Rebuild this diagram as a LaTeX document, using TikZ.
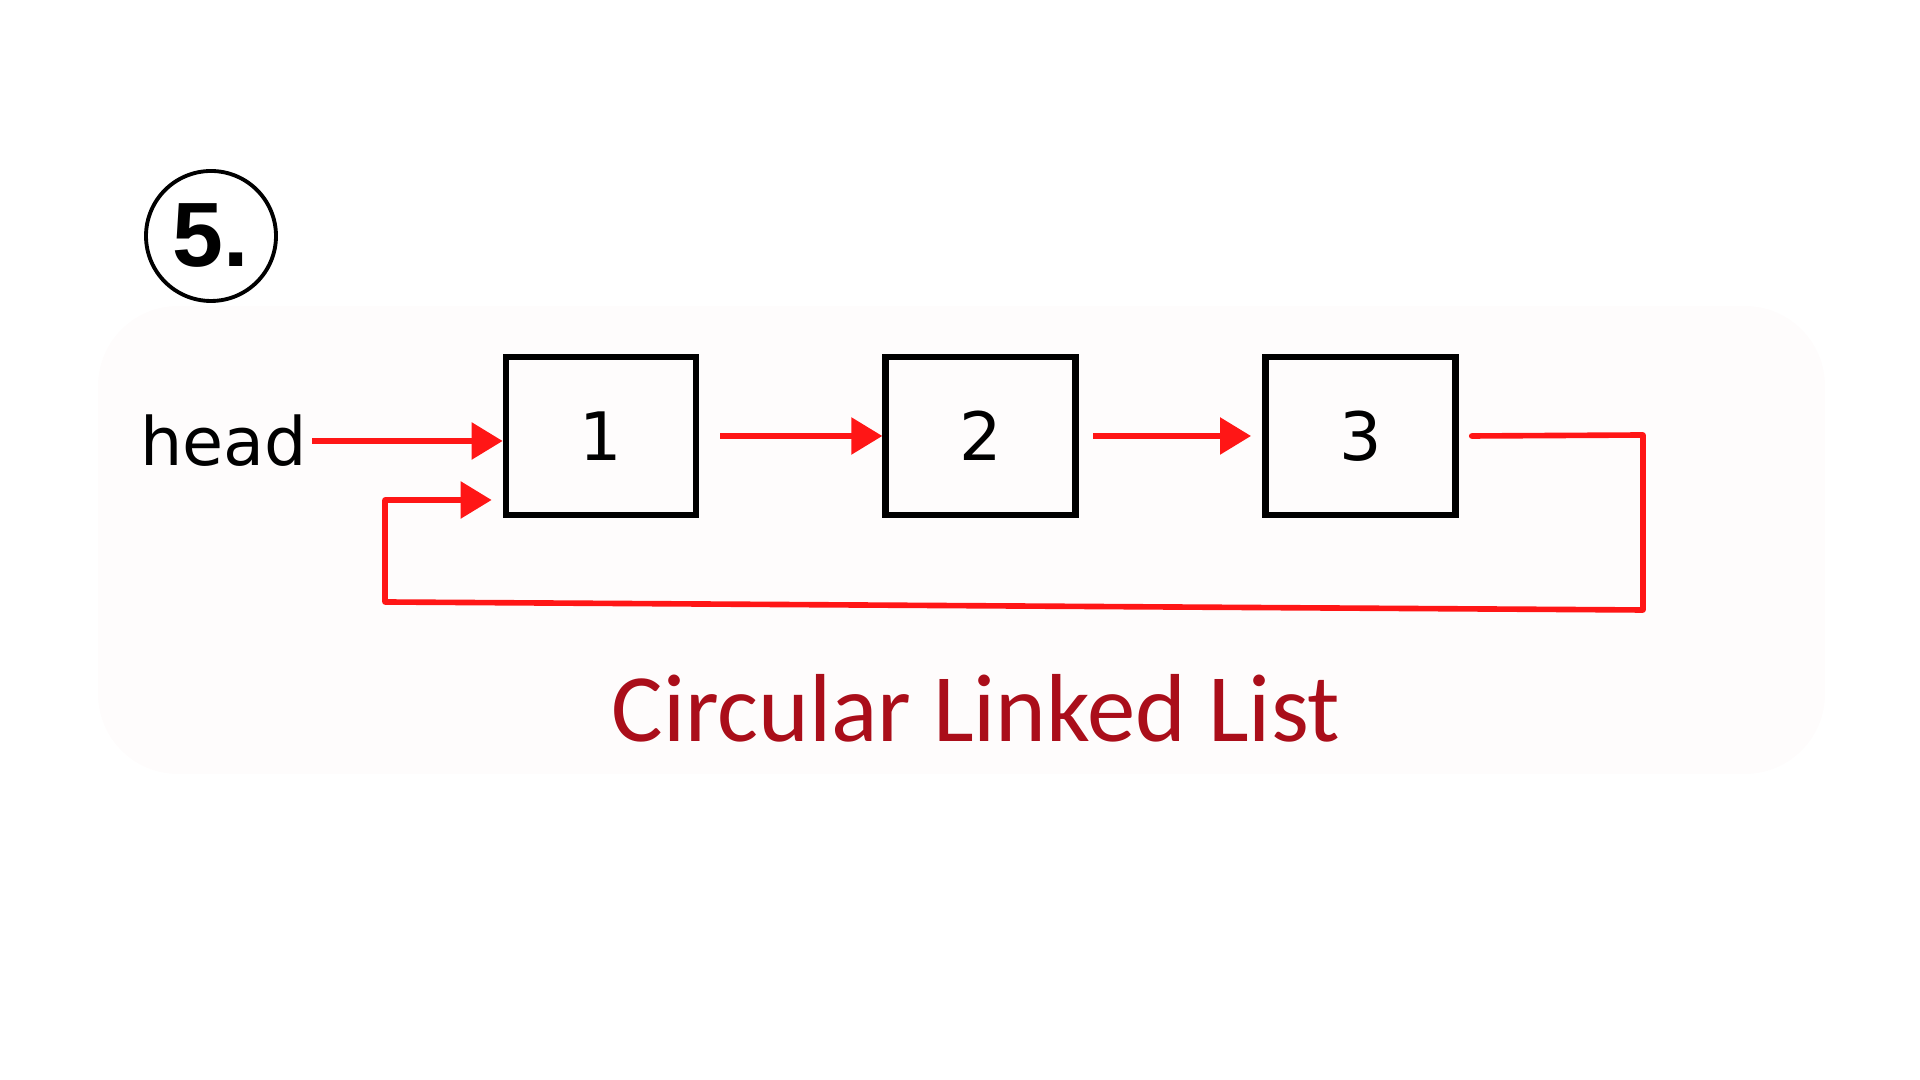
\documentclass[tikz,border=0pt]{standalone}
\usepackage{fontspec}
\usepackage{xcolor}
\usepackage{tikz}
\usetikzlibrary{positioning,arrows.meta}

\newfontfamily\headfont{DejaVu Sans}
\newfontfamily\captionfont{Carlito}
\newfontfamily\badgefont{Liberation Sans}

\definecolor{linkred}{RGB}{255,22,22}
\definecolor{titlered}{RGB}{170,14,26}
\definecolor{panelgray}{RGB}{254,252,252}

\tikzset{
  cell/.style={draw=black, line width=1.9pt, minimum width=1.90cm, minimum height=1.58cm,
    inner sep=0pt, font=\headfont\fontsize{19}{19}\selectfont},
  link/.style={draw=linkred, line width=1.6pt, -{Triangle[length=3.1mm,width=3.6mm]}},
  linkline/.style={draw=linkred, line width=1.6pt, line join=round, line cap=round}
}

\begin{document}
\begin{tikzpicture}
            \useasboundingbox (0,0) rectangle (19.2,10.8);

            % faint panel behind the list
            \fill[panelgray, rounded corners=8mm] (0.98,3.06) rectangle (18.25,7.74);

            % step badge
            \node[draw=black, line width=1.1pt, circle, minimum size=1.30cm, inner sep=0pt,
                  font=\badgefont\bfseries\fontsize{26}{26}\selectfont] (badge) at (2.11,8.44) {5.};

            % nodes of the list
            \node[cell] (box1) at (6.01,6.44) {1};
            \node[cell, right=1.83cm of box1] (box2) {2};
            \node[cell, right=1.83cm of box2] (box3) {3};

            \node[anchor=east, inner sep=0pt, font=\headfont\fontsize{19}{19}\selectfont] (head) at (3.08,6.39) {head};

            % forward links
            \draw[link] ([xshift=0.4mm]head.east) -- (box1.west |- head.east);
            \draw[link] ([xshift=2.1mm]box1.east) -- (box2.west);
            \draw[link] ([xshift=1.4mm]box2.east) -- ([xshift=-1.1mm]box3.west);

            % link back from the last node
            \coordinate (out) at ([xshift=1.3mm]box3.east);
            \coordinate (turnR) at (16.43,6.45);
            \coordinate (downR) at (16.43,4.70);
            \coordinate (downL) at (3.85,4.78);
            \coordinate (upL) at (3.85,5.80);
            \coordinate (back) at ([xshift=-1.1mm,yshift=-6.4mm]box1.west);
            \draw[linkline] (out) -- (turnR) -- (downR) -- (downL) -- (upL);
            \draw[link] (upL) -- (back);

            \node[font=\captionfont\fontsize{27.5}{27.5}\selectfont, text=titlered] (title) at (9.76,3.72) {Circular Linked List};
        \end{tikzpicture}
\end{document}
